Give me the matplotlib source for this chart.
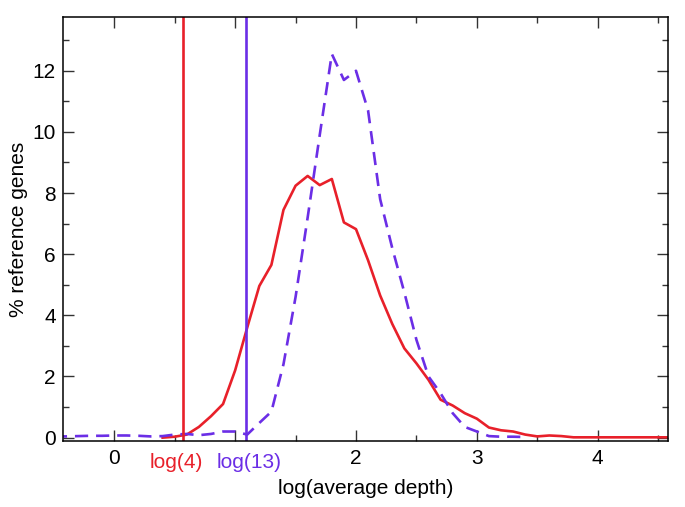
import numpy as np
import matplotlib
matplotlib.use("Agg")
import matplotlib.pyplot as plt
from matplotlib.ticker import MultipleLocator

plt.rcParams['font.family'] = ['Liberation Sans', 'DejaVu Sans']

RED = '#e8202a'
PURPLE = '#6b2ee6'

# red solid curve: log(average depth) vs % reference genes
red_x = [0.4, 0.5, 0.6, 0.7, 0.8, 0.9, 1.0, 1.1, 1.2, 1.3, 1.4, 1.5, 1.6, 1.7, 1.8,
         1.9, 2.0, 2.1, 2.2, 2.3, 2.4, 2.5, 2.6, 2.7, 2.8, 2.9, 3.0, 3.1, 3.2, 3.3,
         3.4, 3.5, 3.6, 3.7, 3.8, 3.9, 4.0, 4.1, 4.2, 4.3, 4.4, 4.5, 4.6]
red_y = [0.0, 0.03, 0.1, 0.35, 0.7, 1.1, 2.2, 3.6, 4.96, 5.65, 7.45, 8.24, 8.56, 8.26, 8.46,
         7.04, 6.82, 5.8, 4.65, 3.72, 2.92, 2.43, 1.89, 1.24, 1.05, 0.8, 0.62, 0.33, 0.24, 0.2,
         0.1, 0.04, 0.07, 0.05, 0.01, 0.01, 0.01, 0.01, 0.01, 0.01, 0.01, 0.01, 0.01]

# purple dashed curve
pur_x = [-0.5, -0.4, -0.3, -0.2, -0.1, 0.0, 0.1, 0.2, 0.3, 0.4, 0.5, 0.6, 0.7, 0.8, 0.9,
         1.0, 1.1, 1.2, 1.3, 1.4, 1.5, 1.6, 1.7, 1.8, 1.9, 2.0, 2.1, 2.2, 2.3, 2.4,
         2.5, 2.6, 2.7, 2.8, 2.9, 3.0, 3.1, 3.2, 3.3, 3.4]
pur_y = [0.04, 0.04, 0.05, 0.06, 0.06, 0.07, 0.07, 0.06, 0.04, 0.05, 0.1, 0.12, 0.08, 0.12, 0.2,
         0.2, 0.1, 0.48, 0.85, 2.4, 4.6, 7.2, 9.9, 12.55, 11.7, 12.0, 10.7, 7.8, 6.2, 4.75,
         3.2, 2.0, 1.45, 0.8, 0.35, 0.2, 0.05, 0.03, 0.03, 0.02]

cut_red = 0.565   # log(4) threshold line
cut_pur = 1.09    # log(13) threshold line

fig = plt.figure(figsize=(6.85, 5.07), dpi=100)
ax = fig.add_axes([0.0915, 0.1308, 0.8841, 0.8351])

ax.plot(red_x, red_y, '-', color=RED, lw=1.9)
ax.plot(pur_x, pur_y, '--', color=PURPLE, lw=1.9, dashes=(5, 3))
ax.axvline(cut_red, color=RED, lw=1.9)
ax.axvline(cut_pur, color=PURPLE, lw=1.9)

ax.set_xlim(-0.427, 4.584)
ax.set_ylim(-0.1, 13.75)

ax.xaxis.set_major_locator(MultipleLocator(1))
ax.xaxis.set_minor_locator(MultipleLocator(0.5))
ax.yaxis.set_major_locator(MultipleLocator(2))
ax.yaxis.set_minor_locator(MultipleLocator(1))
ax.set_xticks([0, 1, 2, 3, 4])
ax.set_xticklabels(['0', '', '2', '3', '4'])

ax.tick_params(which='both', direction='in', top=True, right=True, labelsize=15,
               width=1.0, color='#333333')
ax.tick_params(which='major', length=8)
ax.tick_params(which='minor', length=4.5)
ax.tick_params(axis='x', pad=6)
ax.tick_params(axis='y', pad=5)
for s in ax.spines.values():
    s.set_linewidth(1.1)

ax.text(0.516, -0.03, 'log(4)', color=RED, fontsize=15, ha='center', va='top',
        transform=ax.get_xaxis_transform())
ax.text(1.116, -0.03, 'log(13)', color=PURPLE, fontsize=15, ha='center', va='top',
        transform=ax.get_xaxis_transform())

ax.set_xlabel('log(average depth)', fontsize=15, labelpad=8)
ax.set_ylabel('% reference genes', fontsize=15, labelpad=3)

fig.savefig('out.png', dpi=100)
